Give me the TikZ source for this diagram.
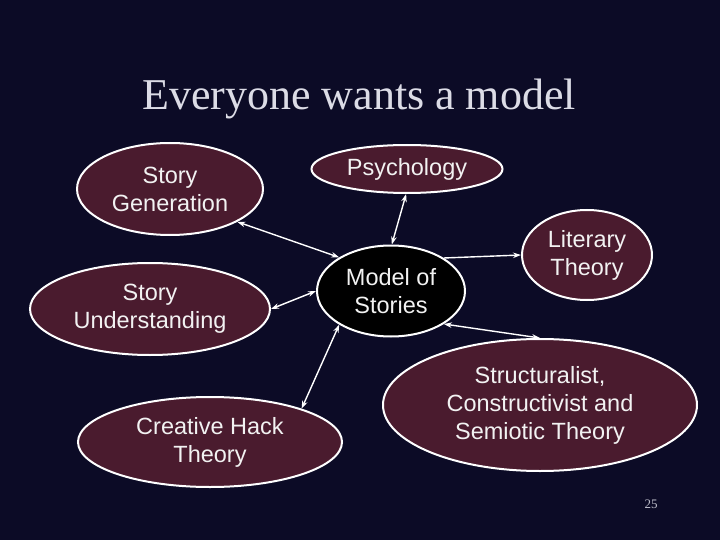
\documentclass[tikz,border=0pt]{standalone}
\usepackage{fontspec}
\setmainfont{Liberation Serif}
\setsansfont{Liberation Sans}
\usetikzlibrary{shapes.geometric,arrows.meta}
\definecolor{bgnavy}{HTML}{0C0B26}
\definecolor{maroonfill}{HTML}{4A1B2E}
\definecolor{titlegray}{HTML}{DCDCE6}
\definecolor{textwhite}{HTML}{F2F2F2}
\tikzset{
  bubble/.style={ellipse, draw=white, line width=2pt, fill=maroonfill, inner sep=0pt,
    text=textwhite, align=center, font=\sffamily\fontsize{23.5}{28}\selectfont},
  hub/.style={bubble, fill=black},
  link/.style={draw=white, line width=1.4pt, {Stealth[length=8pt,width=5.5pt]}-{Stealth[length=8pt,width=5.5pt]}},
  onelink/.style={draw=white, line width=1.4pt, -{Stealth[length=8pt,width=5.5pt]}}
}
\begin{document}
\begin{tikzpicture}[x=1pt,y=-1pt]
\fill[bgnavy] (0,0) rectangle (720,540);
\useasboundingbox (0,0) rectangle (720,540);
\node[anchor=base, text=titlegray, font=\fontsize{44}{50}\selectfont] (title) at (359,110) {Everyone wants a model};
\node[bubble, minimum width=186pt, minimum height=92pt] (sg) at (170,189) {Story\\Generation};
\node[bubble, minimum width=240pt, minimum height=92pt] (su) at (150,309) {Story\\Understanding};
\node[bubble, minimum width=264pt, minimum height=90pt] (ch) at (210,442) {Creative Hack\\Theory};
\node[bubble, minimum width=191pt, minimum height=48pt] (ps) at (407,169) {Psychology};
\node[hub, minimum width=148pt, minimum height=91pt] (ms) at (391,291) {Model of\\Stories};
\node[bubble, minimum width=130pt, minimum height=90pt] (lt) at (587,255) {Literary\\Theory};
\node[bubble, minimum width=314pt, minimum height=132pt] (st) at (540,405) {Structuralist,\\Constructivist and\\Semiotic Theory};
\node[anchor=base, text=titlegray!85!bgnavy, font=\fontsize{13}{15}\selectfont] (pg) at (651,508) {25};
\draw[link] (sg.-26) -- (ms.147);
\draw[link] (su.0) -- (ms.180);
\draw[link] (ps.-92) -- (ms.89);
\draw[onelink] (ms.32) -- (lt.180);
\draw[link] (ms.-32) -- (st.90);
\draw[link] (ms.-147) -- (ch.20);
\end{tikzpicture}
\end{document}
